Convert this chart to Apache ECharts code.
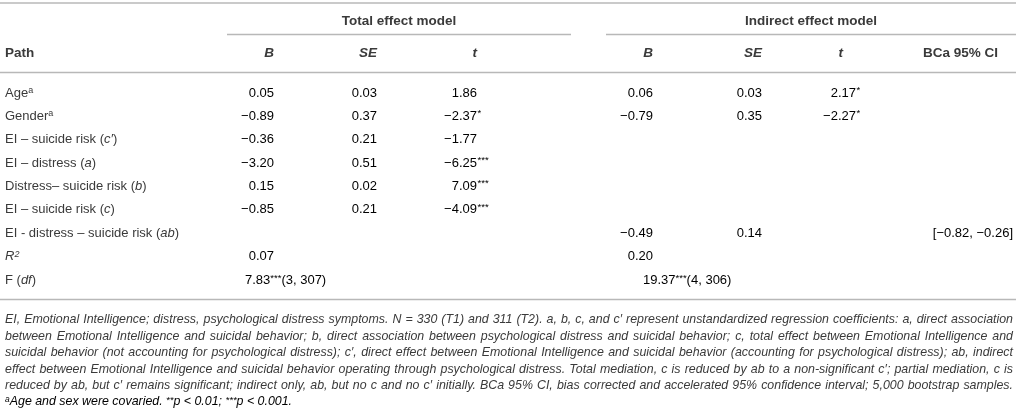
<!DOCTYPE html>
<html>
<head>
<meta charset="utf-8">
<script src="https://cdn.jsdelivr.net/npm/echarts@6/dist/echarts.min.js"></script>
<style>
  html, body { margin: 0; padding: 0; background: #fff; }
  #main { width: 1016px; height: 413px; }
</style>
</head>
<body>
<div id="main"></div>
<script>
// table content
var rows = ['Age', 'Gender', 'EI – suicide risk (c′)', 'EI – distress (a)', 'Distress– suicide risk (b)',
  'EI – suicide risk (c)', 'EI - distress – suicide risk (ab)', 'R²', 'F (df)'];
var rowNotes = ['a', 'a', '', '', '', '', '', '', ''];

var totalB = [0.05, -0.89, -0.36, -3.20, 0.15, -0.85, null, 0.07, null];
var totalSE = [0.03, 0.37, 0.21, 0.51, 0.02, 0.21, null, null, null];
var totalT = [1.86, -2.37, -1.77, -6.25, 7.09, -4.09, null, null, null];
var totalTSig = ['', '*', '', '***', '***', '***', '', '', ''];

var indB = [0.06, -0.79, null, null, null, null, -0.49, 0.20, null];
var indSE = [0.03, 0.35, null, null, null, null, 0.14, null, null];
var indT = [2.17, -2.27, null, null, null, null, null, null, null];
var indTSig = ['*', '*', '', '', '', '', '', '', ''];
var ciLow = [null, null, null, null, null, null, -0.82, null, null];
var ciHigh = [null, null, null, null, null, null, -0.26, null, null];

var fStat = [7.83, 19.37];
var fSig = ['***', '***'];
var fDf = ['(3, 307)', '(4, 306)'];

var groupHeads = ['Total effect model', 'Indirect effect model'];
var colHeads = ['B', 'SE', 't', 'B', 'SE', 't', 'BCa 95% CI'];

var notes = [
  'EI, Emotional Intelligence; distress, psychological distress symptoms. N = 330 (T1) and 311 (T2). a, b, c, and c′ represent unstandardized regression coefficients: a, direct association',
  'between Emotional Intelligence and suicidal behavior; b, direct association between psychological distress and suicidal behavior; c, total effect between Emotional Intelligence and',
  'suicidal behavior (not accounting for psychological distress); c′, direct effect between Emotional Intelligence and suicidal behavior (accounting for psychological distress); ab, indirect',
  'effect between Emotional Intelligence and suicidal behavior operating through psychological distress. Total mediation, c is reduced by ab to a non-significant c′; partial mediation, c is',
  'reduced by ab, but c′ remains significant; indirect only, ab, but no c and no c′ initially. BCa 95% CI, bias corrected and accelerated 95% confidence interval; 5,000 bootstrap samples.'
];

// layout
var FONT = '"Liberation Sans", Arial, sans-serif';
var INK = '#3a3a3a';
var RULE = '#b8b8b8';
var colX = [274, 377, 477, 653, 762, 856, 1013];
var headX = [274, 377, 477, 653, 762, 843, 998];
var groupX = [399, 811];
var fX = [245, 643];
var NOTE_SIZE = 12.4;

var rich = {
  n: { fontFamily: FONT, fontSize: 13, color: INK },
  i: { fontFamily: FONT, fontSize: 13, color: INK, fontStyle: 'italic' },
  sup: { fontFamily: FONT, fontSize: 9, color: INK, verticalAlign: 'top', lineHeight: 14 },
  isup: { fontFamily: FONT, fontSize: 9, color: INK, fontStyle: 'italic', verticalAlign: 'top', lineHeight: 14 },
  s: { fontFamily: FONT, fontSize: 9.5, color: INK, verticalAlign: 'top', lineHeight: 14 }
};

function fmt(v) {
  if (v === null) return '';
  return (v < 0 ? '−' : '') + Math.abs(v).toFixed(2);
}

function rowLabel(name, i) {
  if (name === 'R²') return '{i|R}{isup|2}';
  var m = name.match(/^(.*\()(.+)(\))$/);
  if (m) return '{n|' + m[1] + '}{i|' + m[2] + '}{n|' + m[3] + '}';
  return '{n|' + name + '}' + (rowNotes[i] ? '{sup|' + rowNotes[i] + '}' : '');
}

function textSeries(x, texts, align, dy) {
  var items = [];
  texts.forEach(function (t, i) {
    if (t) items.push({ value: [x, i], t: t });
  });
  return {
    type: 'custom',
    coordinateSystem: 'cartesian2d',
    silent: true,
    data: items.map(function (d) { return d.value; }),
    renderItem: function (params, api) {
      var p = api.coord([api.value(0), api.value(1)]);
      return {
        type: 'text',
        x: p[0],
        y: p[1] + (dy || 0),
        style: {
          text: items[params.dataIndex].t,
          align: align,
          verticalAlign: 'middle',
          rich: rich
        }
      };
    }
  };
}

function wrap(style, arr) {
  return arr.map(function (v) { return v === null || v === '' ? '' : '{' + style + '|' + v + '}'; });
}

var ciTexts = ciLow.map(function (v, i) {
  return v === null ? '' : '{n|[' + fmt(v) + ', ' + fmt(ciHigh[i]) + ']}';
});
var fTexts = fStat.map(function (v, k) {
  return '{n|' + v.toFixed(2) + '}{s|' + fSig[k] + '}{n|' + fDf[k] + '}';
});
function fRow(k) {
  var arr = rows.map(function () { return ''; });
  arr[rows.length - 1] = fTexts[k];
  return arr;
}

var series = [
  textSeries(colX[0], wrap('n', totalB.map(fmt)), 'right'),
  textSeries(colX[1], wrap('n', totalSE.map(fmt)), 'right'),
  textSeries(colX[2], wrap('n', totalT.map(fmt)), 'right'),
  textSeries(colX[2] + 0.5, wrap('s', totalTSig), 'left', -1),
  textSeries(colX[3], wrap('n', indB.map(fmt)), 'right'),
  textSeries(colX[4], wrap('n', indSE.map(fmt)), 'right'),
  textSeries(colX[5], wrap('n', indT.map(fmt)), 'right'),
  textSeries(colX[5] + 0.5, wrap('s', indTSig), 'left', -1),
  textSeries(colX[6], ciTexts, 'right'),
  textSeries(fX[0], fRow(0), 'left'),
  textSeries(fX[1], fRow(1), 'left')
];

var graphic = [];
function rule(x1, x2, y) {
  graphic.push({ type: 'line', silent: true, shape: { x1: x1, y1: y, x2: x2, y2: y },
    style: { stroke: RULE, lineWidth: 1.5 } });
}
rule(0, 1016, 3);
rule(227, 571, 34.5);
rule(606, 1016, 34.5);
rule(0, 1016, 72.5);
rule(0, 1016, 299.5);

groupHeads.forEach(function (g, k) {
  graphic.push({ type: 'text', silent: true, x: groupX[k], y: 21,
    style: { text: g, align: 'center', verticalAlign: 'middle', fill: INK,
      font: 'bold 13.5px ' + FONT } });
});
graphic.push({ type: 'text', silent: true, x: 5, y: 53,
  style: { text: 'Path', align: 'left', verticalAlign: 'middle', fill: INK, font: 'bold 13.5px ' + FONT } });
colHeads.forEach(function (h, k) {
  var ital = h.length <= 2 ? 'italic ' : '';
  graphic.push({ type: 'text', silent: true, x: headX[k], y: 53,
    style: { text: h, align: 'right', verticalAlign: 'middle', fill: INK, font: ital + 'bold 13.5px ' + FONT } });
});

// footnote, justified to the table width
var noteFontStr = 'italic ' + NOTE_SIZE + 'px ' + FONT;
var ctx = document.createElement('canvas').getContext('2d');
ctx.font = noteFontStr;
notes.forEach(function (line, k) {
  var words = line.split(' ');
  var widths = words.map(function (w) { return ctx.measureText(w).width; });
  var total = widths.reduce(function (a, b) { return a + b; }, 0);
  var gap = Math.max(2.5, (1008 - total) / (words.length - 1));
  var x = 5;
  words.forEach(function (w, j) {
    graphic.push({ type: 'text', silent: true, x: x, y: 320 + 16.4 * k,
      style: { text: w, align: 'left', verticalAlign: 'middle', fill: INK, font: noteFontStr } });
    x += widths[j] + gap;
  });
});
var noteFont = { fontFamily: FONT, fontSize: NOTE_SIZE, fontStyle: 'italic', color: INK };
graphic.push({ type: 'text', silent: true, x: 5, y: 320 + 16.4 * 5,
  style: {
    text: '{sup|a}{t|Age and sex were covaried. }{s|**}{t|p < 0.01; }{s|***}{t|p < 0.001.}',
    align: 'left', verticalAlign: 'middle',
    rich: {
      t: noteFont,
      sup: { fontFamily: FONT, fontSize: 8.5, fontStyle: 'italic', color: INK, verticalAlign: 'top', lineHeight: 14 },
      s: { fontFamily: FONT, fontSize: 9.5, fontStyle: 'italic', color: INK, verticalAlign: 'top', lineHeight: 14 }
    }
  } });

var chart = echarts.init(document.getElementById('main'), null, { renderer: 'canvas' });
chart.setOption({
  animation: false,
  backgroundColor: '#fff',
  grid: { left: 0, right: 0, top: 81.3, height: 210.4 },
  xAxis: { type: 'value', min: 0, max: 1016, show: false },
  yAxis: {
    type: 'category',
    inverse: true,
    data: rows,
    axisLine: { show: false },
    axisTick: { show: false },
    splitLine: { show: false },
    axisLabel: {
      inside: true,
      margin: 5,
      interval: 0,
      formatter: rowLabel,
      rich: rich
    }
  },
  series: series,
  graphic: graphic
});
</script>
</body>
</html>
